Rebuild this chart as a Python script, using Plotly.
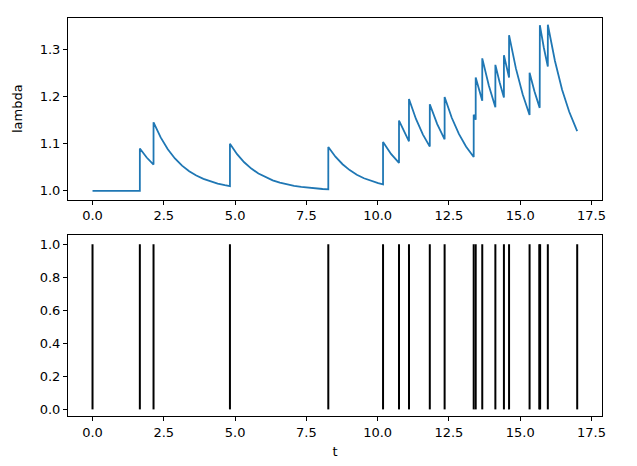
import plotly.graph_objects as go

# Intensity curve (time, lambda)
lam_t = [0.0, 1.66, 1.66, 1.90, 2.14, 2.14, 2.39, 2.64, 2.89, 3.14, 3.39, 3.64, 3.89, 4.14, 4.39, 4.64,
         4.82, 4.82, 5.07, 5.32, 5.57, 5.82, 6.07, 6.32, 6.57, 6.82, 7.07, 7.32, 7.57, 7.82, 8.07,
         8.27, 8.27, 8.52, 8.77, 9.02, 9.27, 9.52, 9.77, 10.02,
         10.19, 10.19, 10.47, 10.75, 10.75, 10.925, 11.10, 11.10, 11.345, 11.59,
         11.83, 11.83, 12.09, 12.35, 12.35, 12.6, 12.85, 13.1,
         13.37, 13.37, 13.44, 13.44, 13.555, 13.67, 13.67, 13.9, 14.13, 14.13, 14.28,
         14.43, 14.43, 14.52, 14.61, 14.61, 14.85, 15.09, 15.33, 15.33, 15.50,
         15.685, 15.685, 15.69, 15.69, 15.83, 15.97, 15.97, 16.22, 16.47, 16.72, 16.97, 17.0]
lam_v = [1.0, 1.0, 1.09, 1.0708, 1.0557, 1.1457, 1.1135, 1.0884, 1.0688, 1.0536, 1.0417, 1.0325, 1.0253, 1.0197, 1.0154, 1.0120,
         1.0100, 1.1000, 1.0779, 1.0607, 1.0472, 1.0368, 1.0287, 1.0223, 1.0174, 1.0135, 1.0105, 1.0082, 1.0064, 1.0050, 1.0039,
         1.0032, 1.0932, 1.0726, 1.0565, 1.0440, 1.0343, 1.0267, 1.0208, 1.0162,
         1.0137, 1.1037, 1.0784, 1.0592, 1.1492, 1.1253, 1.1051, 1.1951, 1.1527, 1.1195,
         1.0940, 1.1840, 1.1419, 1.1094, 1.1994, 1.1553, 1.1209, 1.0942,
         1.0719, 1.1619, 1.1510, 1.2410, 1.2148, 1.1915, 1.2815, 1.2237, 1.1777, 1.2677, 1.2304,
         1.1983, 1.2883, 1.2635, 1.2408, 1.3308, 1.2602, 1.2047, 1.1610, 1.2510, 1.2118,
         1.1763, 1.2663, 1.2650, 1.3520, 1.3040, 1.2640, 1.3530, 1.2760, 1.2150, 1.1680, 1.1310, 1.1270]

# Event times (bottom panel)
events = [0.0, 1.66, 2.14, 4.82, 8.27, 10.19, 10.75, 11.10, 11.83, 12.35, 13.37, 13.44,
          13.67, 14.13, 14.43, 14.61, 15.33, 15.67, 15.70, 15.97, 17.0]

x_ticks = [0.0, 2.5, 5.0, 7.5, 10.0, 12.5, 15.0, 17.5]
top_y_ticks = [1.0, 1.1, 1.2, 1.3]
bot_y_ticks = [0.0, 0.2, 0.4, 0.6, 0.8, 1.0]

ev_x, ev_y = [], []
for e in events:
    ev_x += [e, e, None]
    ev_y += [0, 1, None]

fig = go.Figure()
fig.add_trace(go.Scatter(x=lam_t, y=lam_v, mode="lines",
                         line=dict(color="#1f77b4", width=1.8), xaxis="x", yaxis="y",
                         showlegend=False, hoverinfo="skip"))
fig.add_trace(go.Scatter(x=ev_x, y=ev_y, mode="lines",
                         line=dict(color="black", width=2), xaxis="x2", yaxis="y2",
                         showlegend=False, hoverinfo="skip"))

font = dict(family="DejaVu Sans", size=13, color="black")
axcommon = dict(showline=True, mirror=True, linecolor="black", linewidth=1,
                ticks="outside", ticklen=4, tickcolor="black", showgrid=False,
                zeroline=False, tickfont=font)

fig.update_layout(
    width=637, height=466,
    margin=dict(l=58, r=43, t=9, b=58),
    paper_bgcolor="white", plot_bgcolor="white",
    font=font,
    xaxis=dict(domain=[0, 1], anchor="y", range=[-0.86, 17.87],
               tickvals=x_ticks, ticktext=[f"{v:.1f}" for v in x_ticks], **axcommon),
    yaxis=dict(domain=[0.5439, 1], anchor="x", range=[0.9815, 1.3673],
               tickvals=top_y_ticks, ticktext=[f"{v:.1f}" for v in top_y_ticks],
               title=dict(text="lambda", font=font, standoff=14), **axcommon),
    xaxis2=dict(domain=[0, 1], anchor="y2", range=[-0.86, 17.87],
                tickvals=x_ticks, ticktext=[f"{v:.1f}" for v in x_ticks],
                title=dict(text="t", font=font, standoff=8), **axcommon),
    yaxis2=dict(domain=[0, 0.4536], anchor="x2", range=[-0.04, 1.053],
                tickvals=bot_y_ticks, ticktext=[f"{v:.1f}" for v in bot_y_ticks], **axcommon),
)

fig.write_html("out.html")
